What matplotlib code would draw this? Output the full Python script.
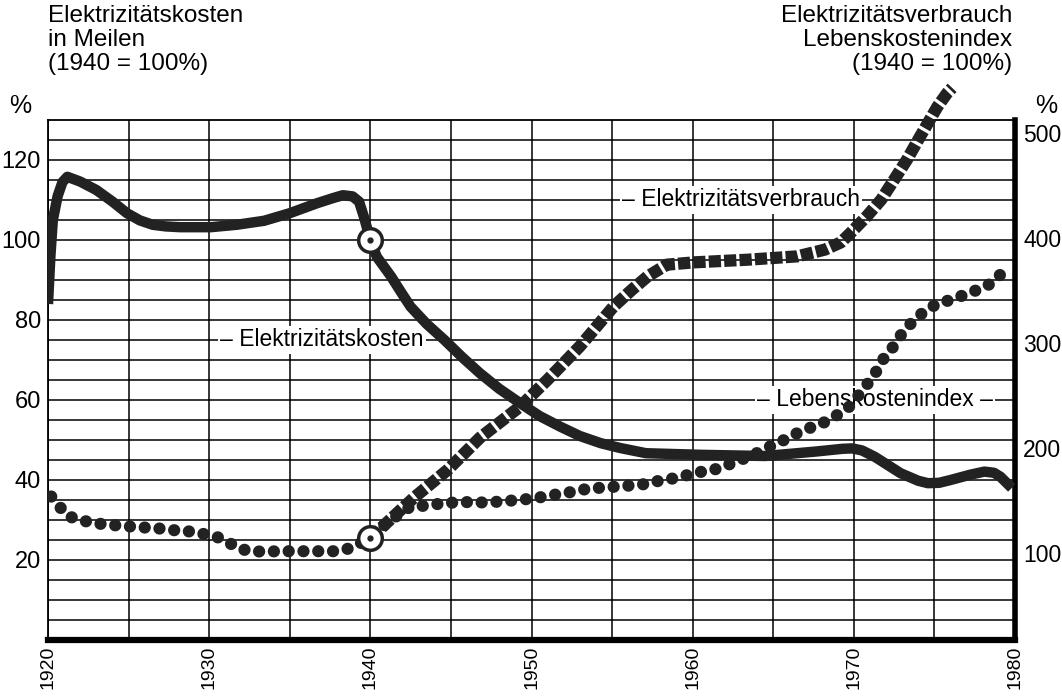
import matplotlib
matplotlib.use("Agg")
import matplotlib.pyplot as plt

# Elektrizitätskosten (linke Achse, 1940 = 100%)
kosten_jahr = [1920.0, 1920.15, 1920.3, 1920.6, 1920.9, 1921.2, 1922.0, 1923.0, 1924.0,
               1924.9, 1925.7, 1926.5, 1927.3, 1928.2, 1930.1, 1931.7, 1933.4, 1935.0,
               1936.7, 1937.7, 1938.3, 1938.9, 1939.3, 1939.6, 1940.0, 1940.4, 1941.3,
               1941.9, 1942.5, 1943.5, 1944.6, 1945.7, 1946.8, 1948.0, 1949.3, 1950.5,
               1951.8, 1953.0, 1954.3, 1955.5, 1957.1, 1960.5, 1964.5, 1967.6, 1969.3,
               1969.9, 1970.5, 1971.3, 1972.9, 1974.0, 1974.6, 1975.3, 1976.0, 1977.2,
               1978.1, 1978.7, 1979.1, 1979.8]
kosten_wert = [84, 96, 105, 111, 114.5, 115.8, 114.6, 112.5, 109.6,
               106.7, 104.9, 103.8, 103.4, 103.2, 103.2, 103.8, 104.8, 106.7,
               109.2, 110.5, 111.2, 110.9, 109.6, 105.8, 100, 95.8, 90.8,
               87, 83.3, 79, 75, 70.7, 66.7, 62.8, 59.2, 56,
               53.3, 51, 49.2, 48, 46.7, 46.3, 46, 47.1, 47.8,
               47.9, 47.4, 45.8, 41.7, 39.8, 39.2, 39.3, 40, 41.3,
               42.1, 41.8, 40.8, 38]

# Lebenskostenindex (rechte Achse)
leben_jahr = [1920.2, 1920.7, 1921.3, 1922.1, 1922.9, 1923.7, 1924.6, 1925.5, 1926.3,
              1927.1, 1928.0, 1928.8, 1929.6, 1930.5, 1931.2, 1931.9, 1932.7, 1935.0,
              1937.9, 1938.8, 1940.0, 1941.0, 1942.5, 1943.4, 1944.3, 1945.2, 1946.1,
              1947.0, 1947.9, 1948.8, 1949.7, 1950.6, 1951.4, 1952.3, 1953.1, 1954.0,
              1954.9, 1955.9, 1956.8, 1957.7, 1958.6, 1959.5, 1960.3, 1961.3, 1962.2,
              1963.0, 1964.0, 1964.8, 1965.7, 1966.5, 1967.4, 1968.3, 1969.1, 1969.8,
              1970.4, 1971.0, 1971.5, 1971.9, 1972.5, 1973.0, 1973.6, 1974.3, 1975.1,
              1975.9, 1976.9, 1977.7, 1978.5, 1979.2, 1979.6]
leben_wert = [153.6, 144.1, 134.6, 130.8, 128.3, 126.7, 125.7, 124.5, 123.8,
              122.9, 121.2, 120.3, 118.1, 115, 109.8, 103.8, 101.2, 101.5,
              101.5, 104.5, 114, 128.3, 144.1, 144.8, 146.7, 147.9, 148.3,
              147.9, 148.6, 149.8, 151.1, 153, 155.2, 157.4, 160, 161.6,
              162.6, 163.8, 164.8, 167.9, 170.2, 173.3, 176.5, 179, 183.8,
              188.6, 195, 201.2, 207.6, 214, 219.7, 225, 232.4, 240,
              252.1, 263.8, 275, 286.4, 297.1, 309.2, 319.3, 328.9, 336.5,
              340.3, 345.7, 350.5, 356.2, 366.4, 370]

# Elektrizitätsverbrauch (rechte Achse)
verbrauch_jahr = [1940.0, 1941.0, 1942.7, 1944.8, 1946.8, 1949.3, 1951.0, 1953.0, 1955.1,
                  1956.2, 1957.2, 1958.4, 1960.1, 1963.4, 1966.5, 1968.2, 1969.2, 1969.8,
                  1970.8, 1971.7, 1972.5, 1973.3, 1974.0, 1974.6, 1975.2, 1975.8, 1976.1]
verbrauch_wert = [114, 128.3, 152.4, 179, 209.5, 239.3, 264.8, 296.5, 334.6,
                  350, 363.1, 374.3, 376.5, 379, 382.2, 388.6, 395.5, 404.5,
                  420.3, 436.2, 455.2, 474.3, 493.3, 509.2, 525, 537.8, 542.6]

jahre_ticks = [1920, 1930, 1940, 1950, 1960, 1970, 1980]
links_ticks = [20, 40, 60, 80, 100, 120]
rechts_ticks = [100, 200, 300, 400, 500]

plt.rcParams['font.family'] = ['Liberation Sans', 'DejaVu Sans']

fig = plt.figure(figsize=(10.62, 7.0), dpi=100)
ax = fig.add_axes([48 / 1062, 60 / 700, (1015 - 48) / 1062, 520 / 700])
ax.set_xlim(1920, 1980)
ax.set_ylim(0, 130)

# Raster
for x in range(1920, 1981, 5):
    ax.axvline(x, color='black', lw=1.1, zorder=1)
for y in range(5, 130, 5):
    ax.axhline(y, color='black', lw=1.1, zorder=1)

for s in ['left', 'top']:
    ax.spines[s].set_linewidth(1.3)
ax.spines['bottom'].set_linewidth(4.5)
ax.spines['right'].set_linewidth(4)

ax.set_xticks(jahre_ticks)
ax.set_xticklabels([str(j) for j in jahre_ticks], rotation=90, fontsize=14)
ax.set_yticks(links_ticks)
ax.set_yticklabels([str(v) for v in links_ticks], fontsize=17)
ax.tick_params(axis='x', length=0, pad=4)
ax.tick_params(axis='y', length=0, pad=5)

ax.plot(kosten_jahr, kosten_wert, color='#222222', lw=7.5,
        solid_capstyle='butt', solid_joinstyle='round', zorder=5)

ax2 = ax.twinx()
ax2.set_ylim(17, 512)
ax2.set_yticks(rechts_ticks)
ax2.set_yticklabels([str(v) for v in rechts_ticks], fontsize=16.5)
ax2.tick_params(axis='y', length=0, pad=6)
for s in ax2.spines.values():
    s.set_visible(False)

ax2.plot(leben_jahr, leben_wert, color='#222222', lw=8.8, linestyle=(0, (0.01, 1.2)),
         dash_capstyle='round', zorder=4)
ax2.plot(verbrauch_jahr, verbrauch_wert, color='#222222', lw=8.8,
         linestyle=(0, (1.0, 0.26)), dash_capstyle='butt', clip_on=False, zorder=4)

# Markierungen 1940
for axis, val in [(ax, 100), (ax2, 114)]:
    axis.plot([1940], [val], marker='o', ms=17, mfc='white', mec='#222222',
              mew=2.5, zorder=8, clip_on=False)
    axis.plot([1940], [val], marker='o', ms=3.5, mfc='#222222', mec='#222222',
              zorder=9, clip_on=False)

# Beschriftungen der Kurven
box = dict(facecolor='white', edgecolor='none', pad=1.5)
ax.text(1955.6, 110, '– Elektrizitätsverbrauch', fontsize=16.5, va='center',
        ha='left', bbox=box, zorder=3)
ax.text(1930.7, 75, '– Elektrizitätskosten', fontsize=16.5, va='center',
        ha='left', bbox=box, zorder=3)
ax.text(1964.0, 60, '– Lebenskostenindex –', fontsize=16.5, va='center',
        ha='left', bbox=box, zorder=3)

# Kopfzeilen
fig.text(48 / 1062, 1 - 5 / 700, 'Elektrizitätskosten\nin Meilen\n(1940 = 100%)',
         fontsize=17.5, ha='left', va='top', linespacing=1.12)
fig.text(1012 / 1062, 1 - 5 / 700, 'Elektrizitätsverbrauch\nLebenskostenindex\n(1940 = 100%)',
         fontsize=17.5, ha='right', va='top', linespacing=1.12, multialignment='right')
fig.text(20 / 1062, 1 - 106 / 700, '%', fontsize=18, ha='center', va='center')
fig.text(1046 / 1062, 1 - 106 / 700, '%', fontsize=18, ha='center', va='center')

fig.savefig('out.png', dpi=100)
